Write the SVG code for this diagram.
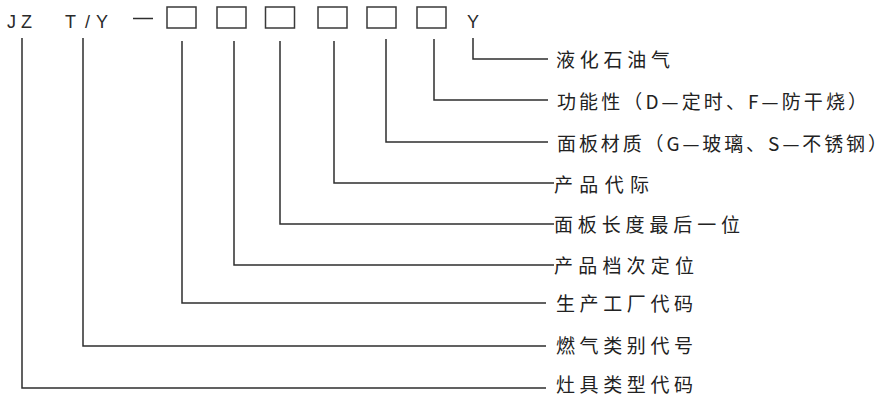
<svg xmlns="http://www.w3.org/2000/svg" width="889" height="396" viewBox="0 0 889 396">
<style>
.code{font-family:"Liberation Sans","Noto Sans",sans-serif;font-size:18px;fill:#2a2a2a}
.lbl{font-family:"Noto Sans CJK SC","Noto Sans",sans-serif;font-size:19px;fill:#222222;dominant-baseline:central}
.box{fill:none;stroke:#3a3a3a;stroke-width:1.5}
.ln{fill:none;stroke:#2e2e2e;stroke-width:1.5}
</style>
<rect width="889" height="396" fill="#ffffff"/>
<g id="code-row">
  <text class="code" x="7" y="28">J</text>
  <text class="code" x="21" y="28">Z</text>
  <text class="code" x="65" y="28">T</text>
  <text class="code" x="85" y="28">/</text>
  <text class="code" x="96" y="28">Y</text>
  <line class="ln" x1="133" y1="18.5" x2="153" y2="18.5"/>
  <rect class="box" x="167" y="7" width="29" height="21"/>
  <rect class="box" x="217" y="7" width="29" height="21"/>
  <rect class="box" x="265.5" y="7" width="29" height="21"/>
  <rect class="box" x="318" y="7" width="29" height="21"/>
  <rect class="box" x="367" y="7" width="29" height="21"/>
  <rect class="box" x="417" y="7" width="29" height="21"/>
  <text class="code" x="467" y="28">Y</text>
</g>
<g id="connectors">
  <polyline class="ln" points="473,38 473,59 548,59"/>
  <polyline class="ln" points="434,39 434,100 548,100"/>
  <polyline class="ln" points="386,39 386,142 548,142"/>
  <polyline class="ln" points="334,41 334,183 554,183"/>
  <polyline class="ln" points="280,41 280,224 554,224"/>
  <polyline class="ln" points="234,41 234,265 554,265"/>
  <polyline class="ln" points="182,41 182,303 546,303"/>
  <polyline class="ln" points="83,38 83,346 546,346"/>
  <polyline class="ln" points="22,38 22,388 546,388"/>
</g>
<g id="label-lpg"><text class="lbl" x="556" y="58.5" textLength="114" lengthAdjust="spacing">液化石油气</text></g>
<g id="label-function"><text class="lbl" x="557" y="100" textLength="310" lengthAdjust="spacing">功能性（D—定时、F—防干烧）</text></g>
<g id="label-panel-material"><text class="lbl" x="557" y="142" textLength="330" lengthAdjust="spacing">面板材质（G—玻璃、S—不锈钢）</text></g>
<g id="label-generation"><text class="lbl" x="554" y="183" textLength="95" lengthAdjust="spacing">产品代际</text></g>
<g id="label-panel-length"><text class="lbl" x="554" y="223" textLength="186" lengthAdjust="spacing">面板长度最后一位</text></g>
<g id="label-grade"><text class="lbl" x="554" y="264" textLength="140" lengthAdjust="spacing">产品档次定位</text></g>
<g id="label-factory"><text class="lbl" x="556" y="302" textLength="137" lengthAdjust="spacing">生产工厂代码</text></g>
<g id="label-gas"><text class="lbl" x="556" y="344" textLength="137" lengthAdjust="spacing">燃气类别代号</text></g>
<g id="label-type"><text class="lbl" x="556" y="383" textLength="137" lengthAdjust="spacing">灶具类型代码</text></g>
</svg>
